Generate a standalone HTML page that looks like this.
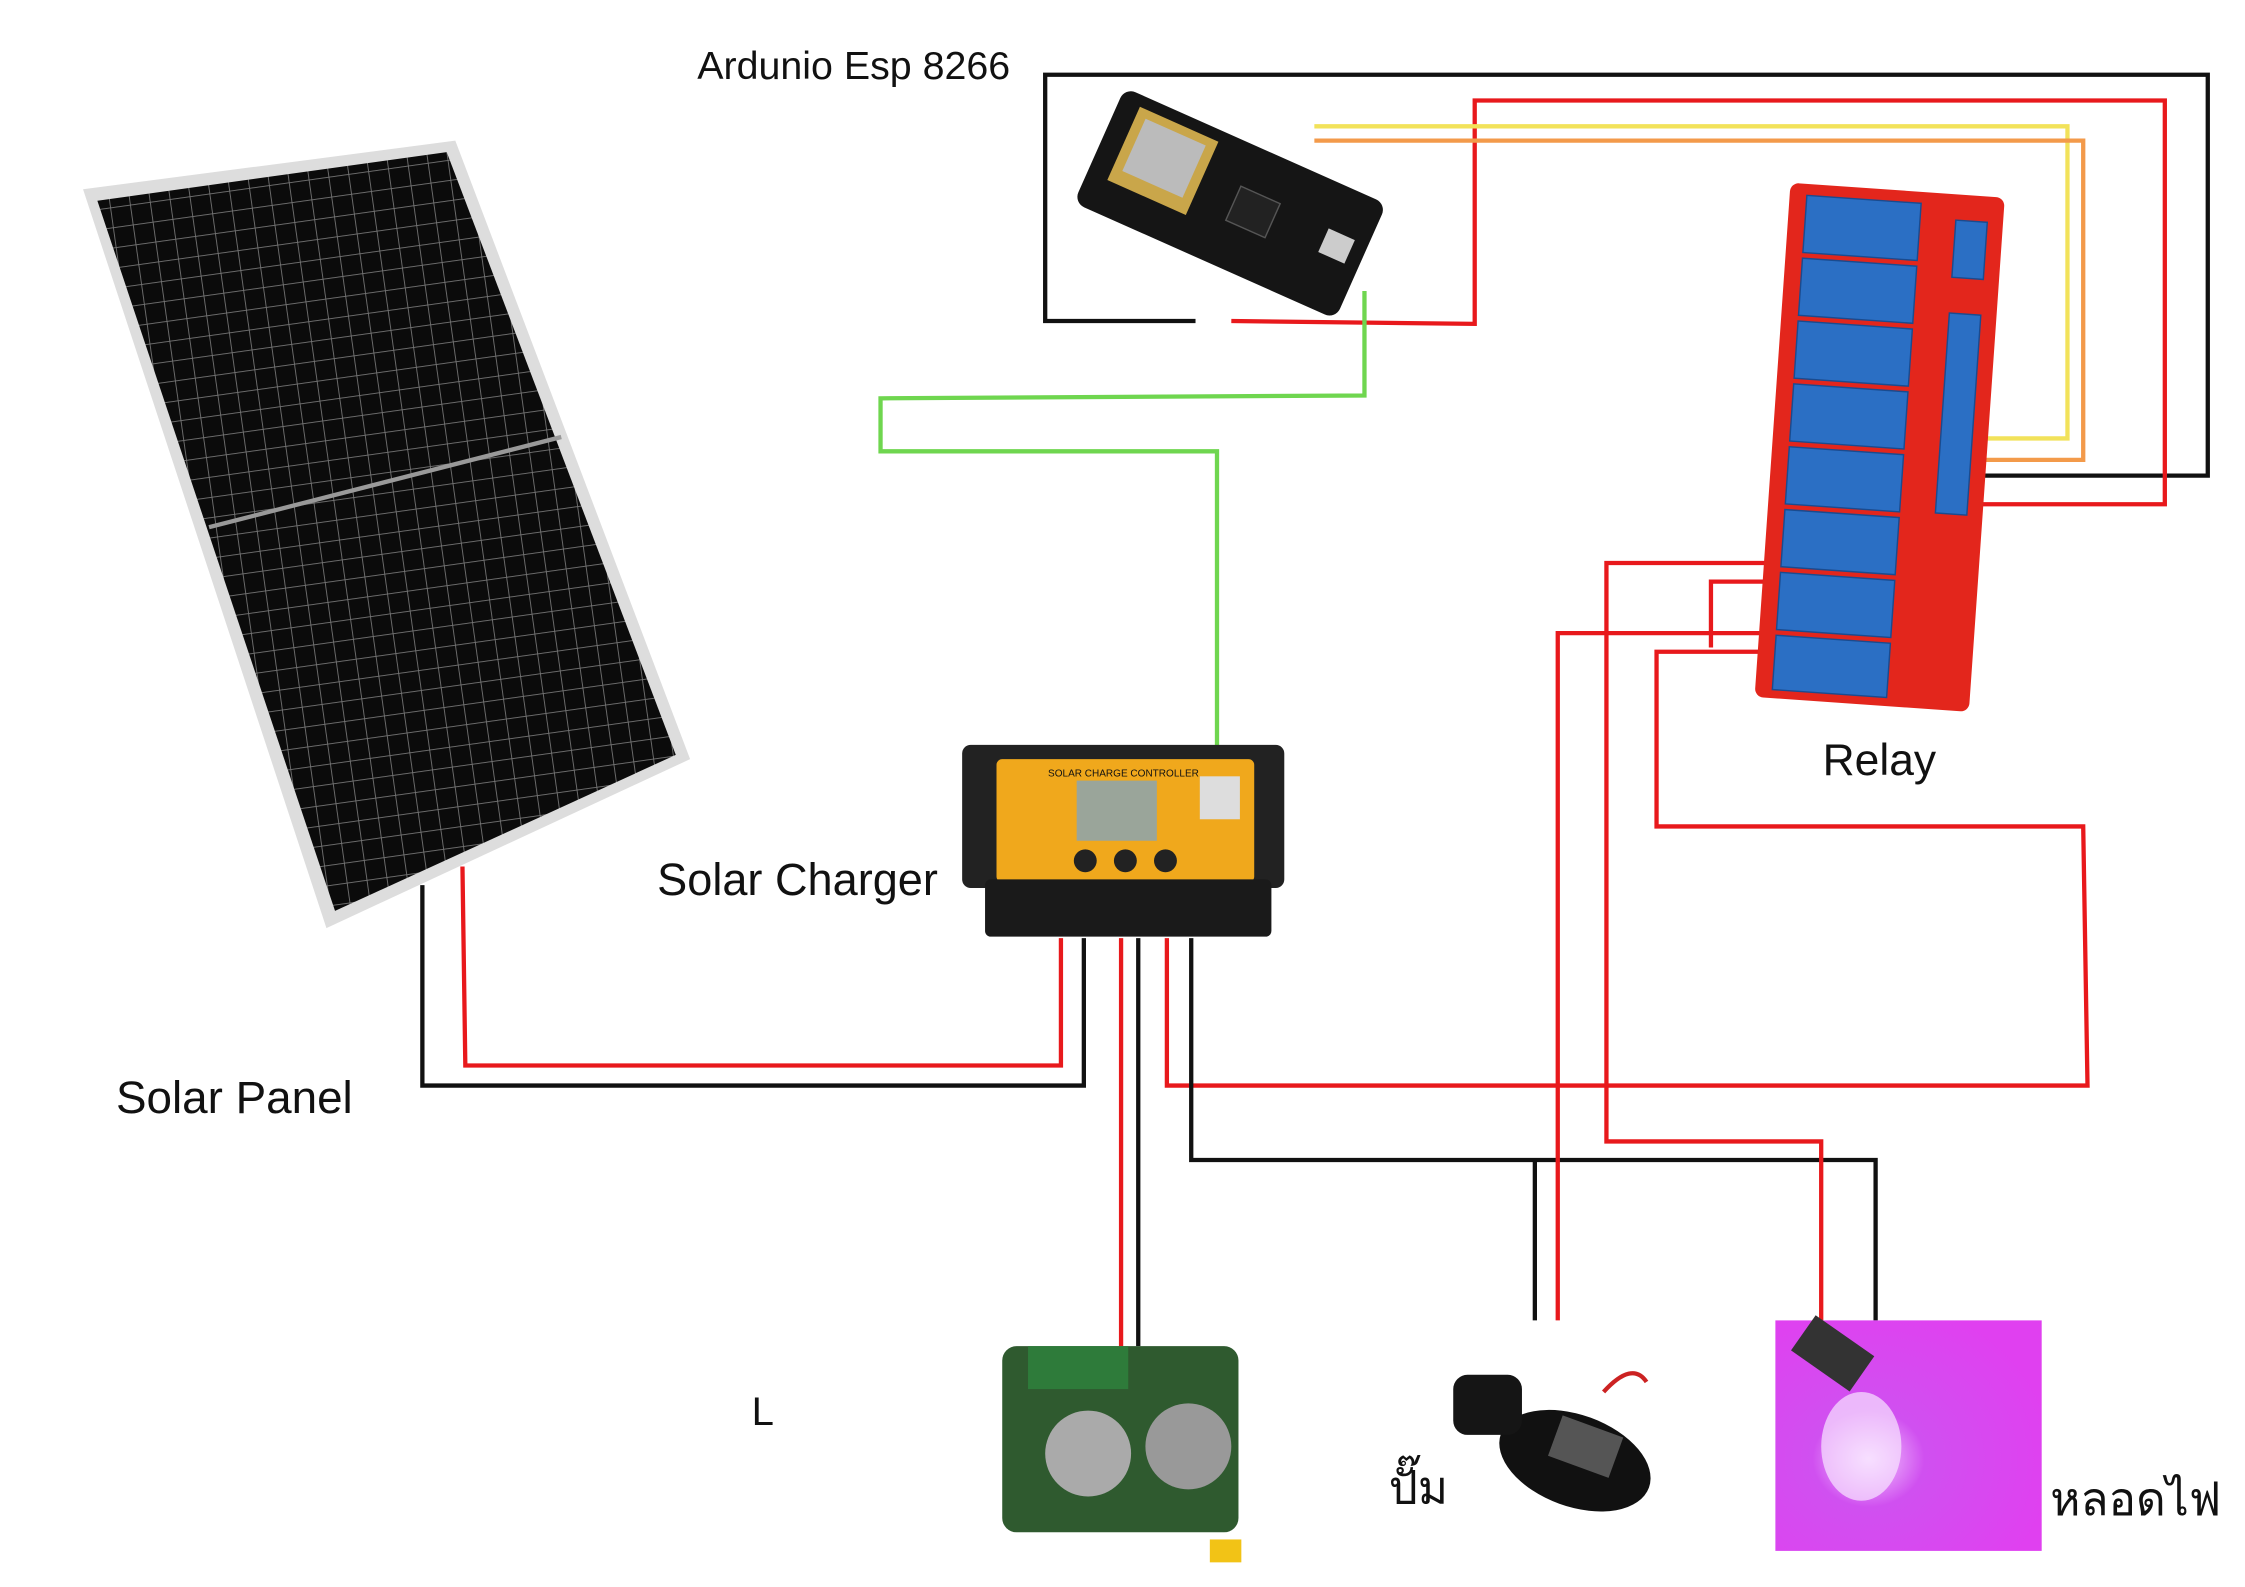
<!DOCTYPE html>
<html><head><meta charset="utf-8"><style>
html,body{margin:0;padding:0;background:#fff;}
svg{display:block;}
text{font-family:"Liberation Sans","DejaVu Sans","Noto Sans CJK SC",sans-serif;fill:#111;}
</style></head><body>
<svg width="2245" height="1587" viewBox="0 0 1568 1108">
<defs>
<pattern id="cells" width="14" height="14" patternUnits="userSpaceOnUse" patternTransform="rotate(-8)">
<rect width="14" height="14" fill="#0b0b0b"/><path d="M0 0H14M0 0V14" stroke="#777" stroke-width="1.2"/>
</pattern>
<radialGradient id="lampg" cx="0.35" cy="0.6" r="0.7"><stop offset="0" stop-color="#f4d0ff"/><stop offset="0.3" stop-color="#d050f0"/><stop offset="1" stop-color="#e040f0"/></radialGradient>
</defs>

<g>
<polygon points="58,132 318,98 482,530 228,648" fill="#ddd"/>
<polygon points="68,140 312,106 472,527 234,636" fill="url(#cells)"/>
<line x1="146" y1="368" x2="392" y2="305" stroke="#999" stroke-width="3"/>
</g>

<g fill="none" stroke-width="3">
<polyline points="835,224 730,224 730,52 1542,52 1542,332 1385,332" stroke="#111"/>
<polyline points="860,224 1030,226 1030,70 1512,70 1512,352 1385,352" stroke="#e8191c"/>
<polyline points="918,88 1444,88 1444,306 1385,306" stroke="#f2e25a"/>
<polyline points="918,98 1455,98 1455,321 1385,321" stroke="#f39a4a"/>
<polyline points="953,203 953,276 615,278 615,315 850,315 850,532" stroke="#6fd64f"/>
<polyline points="295,618 295,758 757,758 757,655" stroke="#111"/>
<polyline points="323,605 325,744 741,744 741,655" stroke="#e8191c"/>
<polyline points="783,655 783,940" stroke="#e8191c"/>
<polyline points="795,655 795,940" stroke="#111"/>
<polyline points="815,655 815,758 1458,758 1455,577 1157,577 1157,455 1240,455" stroke="#e8191c"/>
<polyline points="832,655 832,810 1310,810 1310,922" stroke="#111"/>
<polyline points="1072,810 1072,922" stroke="#111"/>
<polyline points="1088,922 1088,442 1240,442" stroke="#e8191c"/>
<polyline points="1195,452 1195,406 1240,406" stroke="#e8191c"/>
<polyline points="1272,922 1272,797 1122,797 1122,393 1240,393" stroke="#e8191c"/>
</g>

<g transform="rotate(24 860 140)">
<rect x="760" y="98" width="200" height="88" rx="8" fill="#151515"/>
<rect x="775" y="106" width="60" height="56" fill="#c9a64a"/>
<rect x="782" y="112" width="46" height="40" fill="#bbb"/>
<rect x="930" y="130" width="20" height="18" fill="#ccc"/>
<rect x="862" y="128" width="30" height="26" fill="#222" stroke="#555"/>
</g>

<g transform="rotate(4 1310 310)">
<rect x="1238" y="132" width="150" height="360" rx="6" fill="#e3261c"/>
<g fill="#2b6fc4" stroke="#1a4b8f">
<rect x="1250" y="140" width="80" height="40"/><rect x="1250" y="184" width="80" height="40"/>
<rect x="1250" y="228" width="80" height="40"/><rect x="1250" y="272" width="80" height="40"/>
<rect x="1250" y="316" width="80" height="40"/><rect x="1250" y="360" width="80" height="40"/>
<rect x="1250" y="404" width="80" height="40"/><rect x="1250" y="448" width="80" height="38"/>
<rect x="1355" y="215" width="22" height="140"/><rect x="1355" y="150" width="22" height="40"/>
</g>
</g>

<g>
<rect x="672" y="520" width="225" height="100" rx="6" fill="#222"/>
<rect x="696" y="530" width="180" height="86" rx="4" fill="#f0a81c"/>
<rect x="752" y="545" width="56" height="42" fill="#9aa59a"/>
<rect x="838" y="542" width="28" height="30" fill="#ddd"/>
<circle cx="758" cy="601" r="8" fill="#222"/><circle cx="786" cy="601" r="8" fill="#222"/><circle cx="814" cy="601" r="8" fill="#222"/>
<rect x="688" y="614" width="200" height="40" rx="4" fill="#1a1a1a"/>
<text x="732" y="542" font-size="7" style="fill:#111">SOLAR CHARGE CONTROLLER</text>
</g>

<g>
<rect x="700" y="940" width="165" height="130" rx="10" fill="#2f5a2f"/>
<circle cx="760" cy="1015" r="30" fill="#aaa"/><circle cx="830" cy="1010" r="30" fill="#999"/>
<rect x="718" y="940" width="70" height="30" fill="#2e7b3a"/>
<rect x="845" y="1075" width="22" height="16" fill="#f2c316"/>
</g>

<g>
<ellipse cx="1100" cy="1020" rx="55" ry="32" fill="#111" transform="rotate(20 1100 1020)"/>
<rect x="1015" y="960" width="48" height="42" rx="10" fill="#151515"/>
<rect x="1085" y="995" width="45" height="30" fill="#555" transform="rotate(20 1107 1010)"/>
<path d="M1120 972 Q1140 950 1150 965" stroke="#c22" stroke-width="3" fill="none"/>
</g>

<g>
<rect x="1240" y="922" width="186" height="161" fill="url(#lampg)"/>
<ellipse cx="1300" cy="1010" rx="28" ry="38" fill="#f8e6ff" opacity="0.7"/>
<rect x="1255" y="930" width="50" height="30" fill="#333" transform="rotate(35 1280 945)"/>
</g>

<text x="487" y="55" font-size="27.5">Ardunio Esp 8266</text>
<text x="1273" y="541" font-size="31">Relay</text>
<text x="459" y="625" font-size="31.5">Solar Charger</text>
<text x="81" y="777" font-size="32">Solar Panel</text>
<text x="525" y="995" font-size="28">L</text>
<text x="970" y="1050" font-size="32">ปั๊ม</text>
<text x="1432" y="1058" font-size="32">หลอดไฟ</text>
</svg>
</body></html>
